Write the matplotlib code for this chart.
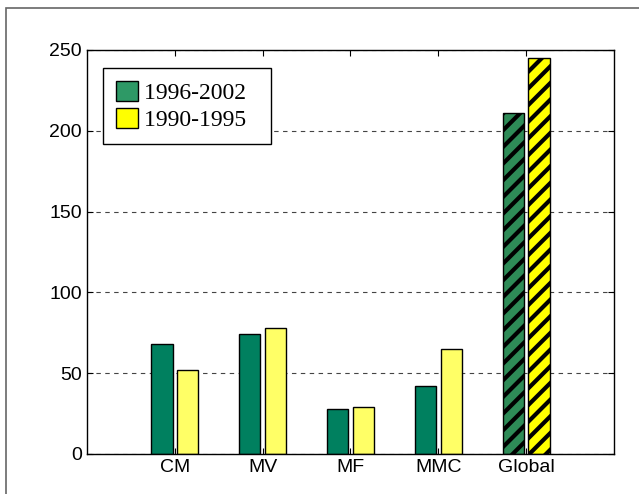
import matplotlib.pyplot as plt
from matplotlib.patches import Patch, Rectangle

categories = ['CM', 'MV', 'MF', 'MMC', 'Global']
values_9602 = [68, 74, 28, 42, 211]
values_9095 = [52, 78, 29, 65, 245]
hatched = [False, False, False, False, True]

green = '#00805F'
yellow = '#FFFF66'
green_h = '#2E8B57'
yellow_h = '#FFFF00'

plt.rcParams['hatch.linewidth'] = 3.0
fig = plt.figure(figsize=(6.39, 4.94), dpi=100)
ax = fig.add_axes([0.136, 0.081, 0.825, 0.818])

x = range(1, len(categories) + 1)
w = 0.24
for xi, a, b, h in zip(x, values_9602, values_9095, hatched):
    ax.bar(xi - 0.145, a, w, color=green_h if h else green, edgecolor='black',
           linewidth=1, hatch='//' if h else None)
    ax.bar(xi + 0.145, b, w, color=yellow_h if h else yellow, edgecolor='black',
           linewidth=1, hatch='//' if h else None)

ax.set_xlim(0, 6)
ax.set_ylim(0, 250)
ax.set_xticks(list(x))
ax.set_xticklabels(categories)
ax.set_yticks([0, 50, 100, 150, 200, 250])
ax.tick_params(direction='in', top=True, right=True, labelsize=14, length=4)
ax.yaxis.grid(True, linestyle=(0, (4, 4)), color='#444444', linewidth=0.8)
ax.set_axisbelow(True)
for s in ax.spines.values():
    s.set_linewidth(1)
for lbl in ax.get_xticklabels() + ax.get_yticklabels():
    lbl.set_family('Liberation Sans')

handles = [Patch(facecolor='#2E9966', edgecolor='black', label='1996-2002  '),
           Patch(facecolor='#FFFF00', edgecolor='black', label='1990-1995  ')]
leg = ax.legend(handles=handles, loc='upper left', bbox_to_anchor=(0.03, 0.955),
                prop={'family': 'Liberation Serif', 'size': 17}, fancybox=False,
                edgecolor='black', framealpha=1, borderpad=0.55, handlelength=0.95,
                handleheight=0.95, handletextpad=0.25, labelspacing=0.15,
                borderaxespad=0)
leg.get_frame().set_linewidth(1)

# outer frame
fig.patches.append(Rectangle((6 / 639, -0.1), 1.2, 1.1 - 8 / 494,
                             transform=fig.transFigure, fill=False,
                             edgecolor='#666666', linewidth=1.2))

fig.savefig('out.png', dpi=100)
